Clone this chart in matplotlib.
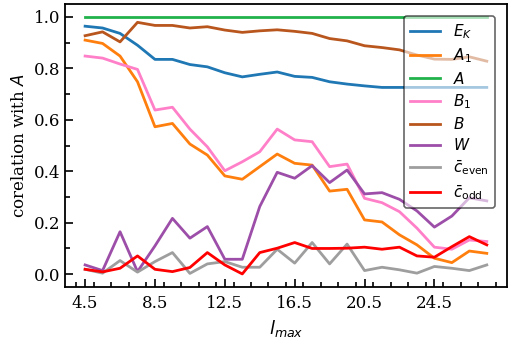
"""Correlation of each quantity with A as a function of l_max."""
import matplotlib
matplotlib.use("Agg")
import matplotlib.pyplot as plt
from matplotlib.ticker import MultipleLocator

l_max = [4.5, 5.5, 6.5, 7.5, 8.5, 9.5, 10.5, 11.5, 12.5, 13.5, 14.5, 15.5,
         16.5, 17.5, 18.5, 19.5, 20.5, 21.5, 22.5, 23.5, 24.5, 25.5, 26.5, 27.5]

e_k = [0.964, 0.957, 0.936, 0.89, 0.835, 0.835, 0.815, 0.806, 0.783, 0.767,
       0.777, 0.786, 0.769, 0.765, 0.748, 0.739, 0.732, 0.726, 0.726, 0.726,
       0.726, 0.726, 0.726, 0.726]
a_1 = [0.91, 0.897, 0.848, 0.748, 0.573, 0.586, 0.506, 0.463, 0.382, 0.369,
       0.418, 0.467, 0.431, 0.424, 0.323, 0.330, 0.211, 0.203, 0.153, 0.114,
       0.062, 0.045, 0.09, 0.081]
a_val = [1.0] * len(l_max)
b_1 = [0.848, 0.84, 0.817, 0.796, 0.638, 0.649, 0.564, 0.495, 0.402, 0.437,
       0.476, 0.564, 0.522, 0.515, 0.418, 0.428, 0.295, 0.278, 0.243, 0.179,
       0.105, 0.097, 0.133, 0.127]
b_val = [0.927, 0.942, 0.903, 0.979, 0.967, 0.967, 0.957, 0.962, 0.949, 0.94,
         0.946, 0.95, 0.944, 0.936, 0.916, 0.907, 0.888, 0.881, 0.872, 0.852,
         0.836, 0.835, 0.845, 0.828]
w_val = [0.036, 0.014, 0.165, 0.01, 0.11, 0.217, 0.14, 0.185, 0.058, 0.058,
         0.263, 0.396, 0.373, 0.422, 0.356, 0.405, 0.312, 0.317, 0.291, 0.246,
         0.183, 0.226, 0.297, 0.285]
c_even = [0.019, 0.004, 0.053, 0.008, 0.049, 0.084, 0.003, 0.04, 0.049, 0.027,
          0.027, 0.097, 0.043, 0.123, 0.04, 0.117, 0.014, 0.027, 0.017, 0.004,
          0.03, 0.023, 0.014, 0.036]
c_odd = [0.019, 0.009, 0.023, 0.071, 0.019, 0.01, 0.026, 0.084, 0.036, 0.001,
         0.084, 0.101, 0.123, 0.1, 0.1, 0.101, 0.105, 0.097, 0.105, 0.071,
         0.066, 0.107, 0.146, 0.114]

series = [
    (e_k, r"$E_K$", "#1f77b4"),
    (a_1, r"$A_1$", "#ff7f0e"),
    (a_val, r"$A$", "#22b24c"),
    (b_1, r"$B_1$", "#ff80c8"),
    (b_val, r"$B$", "#b8561e"),
    (w_val, r"$W$", "#9c4ea8"),
    (c_even, r"$\bar{c}_{\rm even}$", "#9e9e9e"),
    (c_odd, r"$\bar{c}_{\rm odd}$", "#ff0000"),
]

plt.rcParams["font.family"] = "DejaVu Serif"
plt.rcParams["mathtext.fontset"] = "dejavusans"

fig = plt.figure(figsize=(5.12, 3.41), dpi=100)
ax = fig.add_axes([0.127, 0.159, 0.863, 0.829])

for values, label, color in series:
    ax.plot(l_max, values, color=color, lw=2.0, label=label)

ax.set_xticks([4.5, 8.5, 12.5, 16.5, 20.5, 24.5])
ax.xaxis.set_minor_locator(MultipleLocator(1))
ax.yaxis.set_major_locator(MultipleLocator(0.2))
ax.yaxis.set_minor_locator(MultipleLocator(0.1))
ax.tick_params(which="both", direction="in", labelsize=12, width=1.2)
ax.tick_params(which="major", length=6)
ax.tick_params(which="minor", length=3.5)
ax.tick_params(axis="x", which="major", pad=6)
for spine in ax.spines.values():
    spine.set_linewidth(1.3)

ax.set_xlabel(r"$l_{max}$", fontsize=13, labelpad=4)
ax.set_ylabel(r"corelation with $A$", fontsize=12)

leg = ax.legend(loc="upper right", fontsize=11, framealpha=0.6,
                edgecolor="black", labelspacing=0.35, borderaxespad=0.8)
leg.get_frame().set_linewidth(1.2)

fig.savefig("out.png", dpi=100)
